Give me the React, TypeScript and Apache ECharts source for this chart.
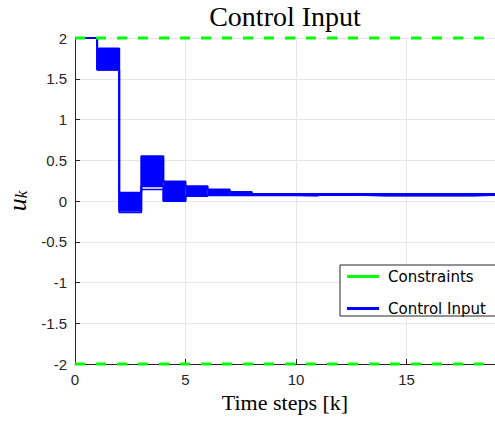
import React, { useEffect, useRef } from 'react';
import * as echarts from 'echarts';

// Time steps k = 0 … 19 (last point closes the final hold interval)
const timeSteps = [0, 1, 2, 3, 4, 5, 6, 7, 8, 9, 10, 11, 12, 13, 14, 15, 16, 17, 18, 19];
// Upper envelope of the control-input bundle
const uUpper = [2.0, 1.87, 0.1, 0.55, 0.24, 0.18, 0.14, 0.11, 0.087, 0.087, 0.085, 0.085, 0.085, 0.085, 0.085, 0.085, 0.085, 0.085, 0.085, 0.085];
// Lower envelope of the control-input bundle
const uLower = [2.0, 1.61, -0.12, 0.18, 0.0, 0.06, 0.07, 0.07, 0.072, 0.072, 0.066, 0.075, 0.075, 0.068, 0.068, 0.068, 0.068, 0.068, 0.075, 0.075];
// One trajectory separated from the bundle
const uTrajectory = [2.0, 1.61, -0.14, 0.14, 0.0, 0.06, 0.07, 0.07, 0.072, 0.072, 0.066, 0.075, 0.075, 0.068, 0.068, 0.068, 0.068, 0.068, 0.075, 0.075];
// Constraints
const uMax = 2;
const uMin = -2;
const xRange = [0, 19];

const serif = 'Liberation Serif';
const sans = 'Liberation Sans';

export default function App() {
  const ref = useRef<HTMLDivElement>(null);
  useEffect(() => {
    if (!ref.current) return;
    const chart = echarts.init(ref.current, null, { renderer: 'svg' });
    const blue = '#0000ff';
    const green = '#00ff00';
    const bandData = timeSteps.slice(0, -1).map((k, i) => [k, timeSteps[i + 1], uUpper[i], uLower[i]]);
    const option: any = {
      animation: false,
      backgroundColor: '#ffffff',
      title: {
        text: 'Control Input',
        left: 285,
        top: 2,
        padding: 0,
        textAlign: 'center',
        textStyle: { fontFamily: serif, fontSize: 28, fontWeight: 'normal', color: '#000' },
      },
      grid: { left: 75, right: 0, top: 38, bottom: 58, containLabel: false, outerBoundsMode: 'none' },
      legend: {
        orient: 'vertical',
        left: 340,
        top: 265,
        backgroundColor: '#ffffff',
        borderColor: '#262626',
        borderWidth: 1,
        borderRadius: 0,
        padding: [4, 12, 0, 7],
        itemGap: 17,
        itemWidth: 32,
        itemHeight: 3,
        textStyle: { fontFamily: 'DejaVu Sans', fontSize: 15, color: '#000', padding: [0, 0, 0, 4] },
        data: [
          { name: 'Constraints', icon: 'rect', itemStyle: { color: green, borderWidth: 0 } },
          { name: 'Control Input', icon: 'rect', itemStyle: { color: blue, borderWidth: 0 } },
        ],
      },
      xAxis: {
        type: 'value',
        min: xRange[0],
        max: xRange[1],
        interval: 5,
        name: 'Time steps [k]',
        nameLocation: 'middle',
        nameGap: 27,
        nameTextStyle: { fontFamily: serif, fontSize: 22, color: '#000', verticalAlign: 'top' },
        axisLine: { show: true, onZero: false, lineStyle: { color: '#262626', width: 1 } },
        axisTick: { show: true, inside: true, length: 5, lineStyle: { color: '#262626' } },
        axisLabel: { fontFamily: sans, fontSize: 15, color: '#262626', margin: 8, showMaxLabel: false },
        splitLine: { show: true, lineStyle: { color: '#e6e6e6', width: 1 } },
      },
      yAxis: {
        type: 'value',
        min: uMin,
        max: uMax,
        interval: 0.5,
        name: '{u|u}{k|k}',
        nameLocation: 'middle',
        nameRotate: 90,
        nameGap: 40,
        nameTextStyle: {
          rich: {
            u: { fontFamily: serif, fontStyle: 'italic', fontSize: 26, color: '#000', verticalAlign: 'top', lineHeight: 26 },
            k: { fontFamily: serif, fontStyle: 'italic', fontSize: 17, color: '#000', verticalAlign: 'bottom', lineHeight: 17, padding: [12, 0, 0, 0] },
          },
        },
        axisLine: { show: true, onZero: false, lineStyle: { color: '#262626', width: 1 } },
        axisTick: { show: true, inside: true, length: 5, lineStyle: { color: '#262626' } },
        axisLabel: { fontFamily: sans, fontSize: 15, color: '#262626', margin: 8 },
        splitLine: { show: true, lineStyle: { color: '#e6e6e6', width: 1 } },
      },
      series: [
        {
          name: 'bundle',
          type: 'custom',
          z: 2,
          clip: false,
          renderItem: (params: any, api: any) => {
            const p1 = api.coord([api.value(0), api.value(2)]);
            const p2 = api.coord([api.value(1), api.value(3)]);
            return {
              type: 'rect',
              shape: { x: p1[0], y: p1[1], width: p2[0] - p1[0], height: p2[1] - p1[1] },
              style: { fill: blue },
            };
          },
          encode: { x: [0, 1], y: [2, 3] },
          data: bandData,
        },
        {
          name: 'bundle-lower',
          type: 'line',
          step: 'end',
          symbol: 'none',
          clip: false,
          z: 3,
          lineStyle: { color: blue, width: 2 },
          itemStyle: { color: blue },
          data: timeSteps.map((k, i) => [k, uLower[i]]),
        },
        {
          name: 'Control Input',
          type: 'line',
          step: 'end',
          symbol: 'none',
          clip: false,
          z: 3,
          lineStyle: { color: blue, width: 2 },
          itemStyle: { color: blue },
          data: timeSteps.map((k, i) => [k, uUpper[i]]),
        },
        {
          name: 'trajectory',
          type: 'line',
          step: 'end',
          symbol: 'none',
          clip: false,
          z: 3,
          lineStyle: { color: blue, width: 1.5 },
          itemStyle: { color: blue },
          data: timeSteps.map((k, i) => [k, uTrajectory[i]]),
        },
        {
          name: 'Constraints',
          type: 'line',
          symbol: 'none',
          clip: false,
          z: 5,
          lineStyle: { color: green, width: 3, type: [10, 11] },
          itemStyle: { color: green },
          data: [[xRange[0], uMax], [xRange[1], uMax]],
        },
        {
          name: 'Constraints',
          type: 'line',
          symbol: 'none',
          clip: false,
          z: 5,
          lineStyle: { color: green, width: 3, type: [10, 11] },
          itemStyle: { color: green },
          data: [[xRange[0], uMin], [xRange[1], uMin]],
        },
      ],
    };
    chart.setOption(option);
    return () => chart.dispose();
  }, []);
  return <div ref={ref} style={{ position: 'fixed', left: 0, top: 0, width: 495, height: 422 }} />;
}
